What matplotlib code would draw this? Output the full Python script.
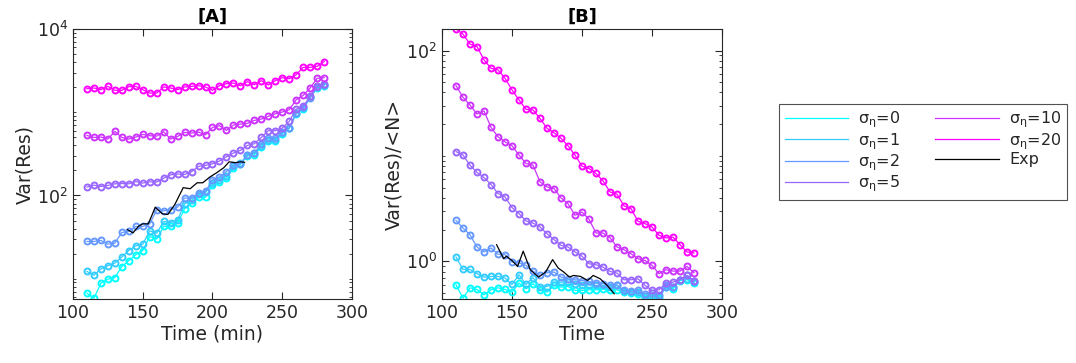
import numpy as np
import matplotlib.pyplot as plt
from matplotlib.ticker import LogLocator, NullFormatter, FixedLocator, FixedFormatter

plt.rcParams['font.family'] = 'DejaVu Sans'
plt.rcParams['mathtext.fontset'] = 'dejavusans'

# time points of the model curves (min)
time = list(range(110, 285, 5))
sigmas = [0, 1, 2, 5, 10, 20]

# [A] Var(Res)
var_s0 = [6.70, 5.83, 8.83, 9.86, 10.3, 14.0, 16.5, 19.4, 21.8, 32.1, 29.9, 42.4, 42.4, 46.5, 69.2,
          80.9, 94.6, 95.5, 134, 147, 160, 213, 236, 300, 308, 381, 446, 450, 551, 640,
          959, 1091, 1507, 1953, 2084]
var_s1 = [12.2, 11.0, 13.1, 14.3, 15.4, 18.2, 21.8, 24.8, 26.0, 37.6, 35.2, 48.7, 47.3, 51.0, 79.4,
          87.1, 104.7, 108.7, 143, 154, 169, 223, 245, 303, 323, 388, 458, 467, 561, 651,
          977, 1122, 1507, 1990, 2104]
var_s2 = [28.0, 28.0, 28.8, 26.0, 26.7, 35.9, 36.9, 42.4, 42.4, 45.6, 67.3, 65.4, 67.3, 72.4, 92.9,
          92.9, 106.7, 111.7, 154, 166, 194, 230, 240, 308, 323, 418, 489, 489, 572, 645,
          977, 1143, 1480, 2009, 2143]
var_s5 = [126, 133, 128, 132, 138, 139, 138, 147, 141, 146, 145, 161, 177, 181, 179,
          193, 223, 230, 240, 259, 292, 323, 348, 399, 418, 498, 600, 600, 645, 776,
          1091, 1175, 1549, 2046, 2182]
var_s10 = [526, 498, 503, 476, 588, 498, 476, 503, 541, 522, 517, 583, 476, 512, 572,
           562, 577, 536, 657, 688, 605, 701, 720, 734, 797, 827, 891, 959, 1005, 1072,
           1413, 1593, 1953, 2551, 2600]
var_s20 = [1919, 1954, 1867, 2046, 1833, 1833, 2027, 2046, 1867, 1699, 1699, 2010, 1954, 1867, 2010,
           2046, 2084, 2010, 1833, 2084, 2203, 2244, 2084, 2331, 2143, 2396, 2122, 2396, 2600, 2529,
           2825, 3459, 3459, 3556, 4050]

exp_time_a = [139, 143, 147, 150, 154, 159, 164, 168, 173, 179, 184, 189, 193, 198, 203, 208, 212, 216, 220, 223]
exp_var = [38.9, 35.5, 42.7, 45.6, 45.6, 72.3, 60.2, 59.1, 77.9, 124, 120.5, 142, 142, 166, 187.5,
           215, 254, 247, 254, 250]

# [B] Var(Res)/<N>
fano_s0 = [0.600, 0.448, 0.562, 0.542, 0.482, 0.538, 0.562, 0.542, 0.511, 0.622, 0.550, 0.614, 0.538,
           0.511, 0.592, 0.570, 0.578, 0.530, 0.530, 0.538, 0.538, 0.546, 0.530, 0.538, 0.511, 0.500,
           0.493, 0.448, 0.448, 0.448, 0.570, 0.550, 0.659, 0.670, 0.622]
fano_s1 = [1.10, 0.839, 0.839, 0.764, 0.710, 0.720, 0.720, 0.695, 0.604, 0.747, 0.604, 0.700, 0.578,
           0.578, 0.635, 0.635, 0.635, 0.604, 0.592, 0.600, 0.592, 0.592, 0.578, 0.592, 0.519, 0.511,
           0.511, 0.465, 0.465, 0.465, 0.592, 0.570, 0.670, 0.684, 0.635]
fano_s2 = [2.45, 2.07, 1.79, 1.37, 1.23, 1.34, 1.17, 1.16, 0.986, 0.971, 0.916, 0.809, 0.736, 0.780,
           0.792, 0.710, 0.684, 0.670, 0.659, 0.645, 0.622, 0.614, 0.592, 0.600, 0.530, 0.519, 0.530,
           0.493, 0.500, 0.485, 0.570, 0.578, 0.670, 0.736, 0.659]
fano_s5 = [11.0, 10.2, 8.18, 6.97, 6.25, 5.36, 4.40, 4.09, 3.24, 2.84, 2.42, 2.31, 2.12, 1.83, 1.61,
           1.42, 1.37, 1.23, 1.12, 0.950, 0.929, 0.883, 0.804, 0.775, 0.670, 0.670, 0.684, 0.592,
           0.530, 0.538, 0.622, 0.635, 0.670, 0.736, 0.645]
fano_s10 = [46.5, 36.0, 30.4, 25.0, 26.7, 18.7, 15.2, 13.6, 12.5, 10.2, 8.49, 8.18, 5.68, 5.09, 4.91,
            4.00, 3.53, 2.74, 2.94, 2.51, 1.86, 1.86, 1.68, 1.37, 1.29, 1.18, 1.06, 1.02, 0.916,
            0.764, 0.834, 0.809, 0.809, 0.896, 0.780]
fano_s20 = [160, 143, 115, 109, 81.5, 67.9, 65.5, 54.6, 42.3, 34.0, 27.7, 27.3, 22.7, 18.3, 16.6,
            14.7, 12.5, 10.2, 8.0, 7.6, 6.82, 5.81, 4.56, 4.34, 3.36, 3.17, 2.40, 2.28, 2.12, 1.77,
            1.67, 1.70, 1.44, 1.23, 1.20]

exp_time_b = [139, 144, 146, 150, 154, 158, 163, 169, 174, 179, 183, 187, 191, 194, 199, 204, 208, 213, 218, 223]
exp_fano = [1.44, 1.06, 1.12, 1.02, 0.896, 1.25, 0.834, 0.710, 0.792, 1.04, 0.865, 0.792, 0.710,
            0.736, 0.720, 0.659, 0.736, 0.684, 0.592, 0.493]

var_series = [var_s0, var_s1, var_s2, var_s5, var_s10, var_s20]
fano_series = [fano_s0, fano_s1, fano_s2, fano_s5, fano_s10, fano_s20]
colors = plt.cm.cool(np.linspace(0, 1, len(sigmas)))
text_col = '#262626'

fig = plt.figure(figsize=(10.76, 3.63), dpi=100)
ax_a = fig.add_axes([73 / 1076, 1 - 299 / 363, 279 / 1076, 270 / 363])
ax_b = fig.add_axes([442 / 1076, 1 - 299 / 363, 280 / 1076, 270 / 363])


def draw_panel(ax, series, exp_t, exp_y, ylim, labeled, title, xlabel, ylabel):
    for s, ys, c in zip(sigmas, series, colors):
        ax.plot(time, ys, color=c, lw=0.9, label='σ$_{\\mathregular{η}}$=%d' % s)
        ax.plot(time, ys, ls='none', marker='o', ms=4.3, mfc='none', mec=c, mew=1.4)
    ax.plot(exp_t, exp_y, color='black', lw=0.9, label='Exp')
    ax.set_yscale('log')
    ax.set_xlim(100, 300)
    ax.set_ylim(*ylim)
    ax.set_xticks([100, 150, 200, 250, 300])
    ax.yaxis.set_major_locator(FixedLocator(labeled))
    ax.yaxis.set_major_formatter(FixedFormatter(['$10^{%d}$' % round(np.log10(v)) for v in labeled]))
    ax.yaxis.set_minor_locator(LogLocator(base=10, subs=np.arange(1, 10), numticks=20))
    ax.yaxis.set_minor_formatter(NullFormatter())
    ax.tick_params(which='both', direction='in', top=True, right=True, colors=text_col,
                   labelsize=12.5)
    ax.tick_params(which='major', length=5, width=0.8)
    ax.tick_params(which='minor', length=2.5, width=0.6)
    for sp in ax.spines.values():
        sp.set_color(text_col)
        sp.set_linewidth(0.8)
    ax.set_title(title, fontsize=13, fontweight='bold', color='black', pad=5)
    ax.set_xlabel(xlabel, fontsize=13.5, color=text_col, labelpad=2)
    ax.set_ylabel(ylabel, fontsize=13.5, color=text_col, labelpad=2)


draw_panel(ax_a, var_series, exp_time_a, exp_var, (5.7, 1e4), [1e2, 1e4],
           '[A]', 'Time (min)', 'Var(Res)')
draw_panel(ax_b, fano_series, exp_time_b, exp_fano, (0.44, 160), [1e0, 1e2],
           '[B]', 'Time', 'Var(Res)/<N>')

handles, labels = ax_a.get_legend_handles_labels()
leg = fig.legend(handles, labels, ncol=2, loc='upper left',
                 bbox_to_anchor=(779 / 1076, 1 - 104 / 363), borderaxespad=0,
                 fontsize=11.5, frameon=True, fancybox=False, handlelength=4.0,
                 handletextpad=0.6, columnspacing=2.2, labelspacing=0.05,
                 borderpad=0.35)
leg.get_frame().set_edgecolor(text_col)
leg.get_frame().set_linewidth(0.8)
for t in leg.get_texts():
    t.set_color(text_col)

fig.savefig('out.png', dpi=100)
